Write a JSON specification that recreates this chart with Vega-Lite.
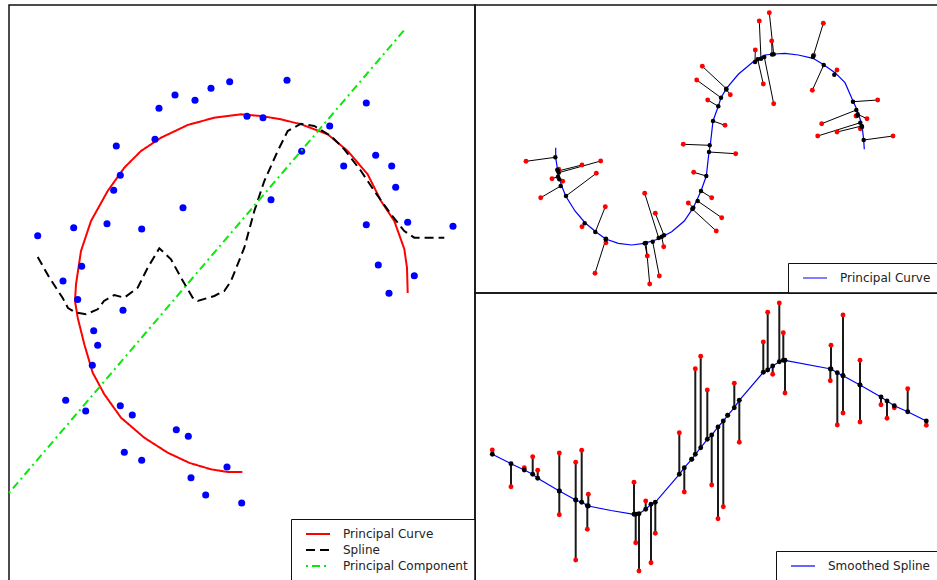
{
  "$schema": "https://vega.github.io/schema/vega-lite/v6.json",
  "padding": {"left": 4, "top": 4, "right": 0, "bottom": 0},
  "background": "white",
  "spacing": 0,
  "bounds": "flush",
  "datasets": {
    "leftPoints": [
      {"x":36.7,"y":234.7},{"x":72.7,"y":226.7},{"x":62,"y":280},{"x":80.7,"y":265.3},{"x":76.7,"y":298.5},
      {"x":106,"y":222.7},{"x":112.7,"y":189.3},{"x":119.3,"y":174.3},{"x":115.3,"y":145},{"x":140.7,"y":228},
      {"x":154,"y":138.3},{"x":158,"y":107.3},{"x":174,"y":94},{"x":194,"y":99.3},{"x":210,"y":87.3},
      {"x":228.7,"y":80.7},{"x":182,"y":206.7},{"x":246,"y":115.3},{"x":262,"y":116.7},{"x":286,"y":79.3},
      {"x":270,"y":198.7},{"x":300.7,"y":150.3},{"x":328.7,"y":125},{"x":365.3,"y":102},{"x":342.7,"y":165},
      {"x":374.7,"y":154.3},{"x":390.7,"y":165},{"x":394.7,"y":186.3},{"x":365.3,"y":223.7},{"x":406.7,"y":221.3},
      {"x":452,"y":225.3},{"x":377.3,"y":264},{"x":413.3,"y":274.7},{"x":388,"y":292.3},{"x":122,"y":309.3},
      {"x":92.7,"y":329.7},{"x":96.7,"y":344.3},{"x":91.3,"y":364.3},{"x":64.7,"y":399.3},{"x":84.7,"y":410},
      {"x":119.3,"y":404.7},{"x":131.3,"y":414},{"x":175.3,"y":428.7},{"x":187.3,"y":435.3},{"x":123.3,"y":451.3},
      {"x":140.7,"y":459.3},{"x":226,"y":466},{"x":190,"y":476.7},{"x":204.7,"y":494},{"x":240.7,"y":502}
    ],
    "leftCurves": [
      {"series":"Principal Curve","ord":1,"x":406.7,"y":292},{"series":"Principal Curve","ord":2,"x":406,"y":266.7},
      {"series":"Principal Curve","ord":3,"x":403.3,"y":248},{"series":"Principal Curve","ord":4,"x":393.3,"y":220},
      {"series":"Principal Curve","ord":5,"x":380,"y":200},{"series":"Principal Curve","ord":6,"x":366.7,"y":173.3},
      {"series":"Principal Curve","ord":7,"x":346.7,"y":150},{"series":"Principal Curve","ord":8,"x":326.7,"y":133.3},
      {"series":"Principal Curve","ord":9,"x":300,"y":123.3},{"series":"Principal Curve","ord":10,"x":280,"y":118.3},
      {"series":"Principal Curve","ord":11,"x":260,"y":115},{"series":"Principal Curve","ord":12,"x":240,"y":113.3},
      {"series":"Principal Curve","ord":13,"x":213.3,"y":116.7},{"series":"Principal Curve","ord":14,"x":186.7,"y":124},
      {"series":"Principal Curve","ord":15,"x":160,"y":136.7},{"series":"Principal Curve","ord":16,"x":140,"y":150},
      {"series":"Principal Curve","ord":17,"x":123.3,"y":166.7},{"series":"Principal Curve","ord":18,"x":106.7,"y":190},
      {"series":"Principal Curve","ord":19,"x":90,"y":220},{"series":"Principal Curve","ord":20,"x":80,"y":250},
      {"series":"Principal Curve","ord":21,"x":75,"y":283.3},{"series":"Principal Curve","ord":22,"x":74,"y":300},
      {"series":"Principal Curve","ord":23,"x":76.7,"y":316.7},{"series":"Principal Curve","ord":24,"x":83.3,"y":343.3},
      {"series":"Principal Curve","ord":25,"x":91.7,"y":371.7},{"series":"Principal Curve","ord":26,"x":103.3,"y":393.3},
      {"series":"Principal Curve","ord":27,"x":120,"y":416.7},{"series":"Principal Curve","ord":28,"x":143.3,"y":436.7},
      {"series":"Principal Curve","ord":29,"x":166.7,"y":451.7},{"series":"Principal Curve","ord":30,"x":188.7,"y":462},
      {"series":"Principal Curve","ord":31,"x":210,"y":468.3},{"series":"Principal Curve","ord":32,"x":226.7,"y":471},
      {"series":"Principal Curve","ord":33,"x":241.3,"y":471},
      {"series":"Spline","ord":1,"x":36.7,"y":256},{"series":"Spline","ord":2,"x":48,"y":276},
      {"series":"Spline","ord":3,"x":61.7,"y":297},{"series":"Spline","ord":4,"x":67,"y":307},
      {"series":"Spline","ord":5,"x":74,"y":311.3},{"series":"Spline","ord":6,"x":85,"y":313.3},
      {"series":"Spline","ord":7,"x":96.7,"y":308.3},{"series":"Spline","ord":8,"x":103,"y":300},
      {"series":"Spline","ord":9,"x":113.3,"y":294},{"series":"Spline","ord":10,"x":123.3,"y":296.7},
      {"series":"Spline","ord":11,"x":136.7,"y":286.7},{"series":"Spline","ord":12,"x":146.7,"y":266.7},
      {"series":"Spline","ord":13,"x":158.3,"y":247.3},{"series":"Spline","ord":14,"x":170,"y":258.3},
      {"series":"Spline","ord":15,"x":180,"y":276.7},{"series":"Spline","ord":16,"x":191.7,"y":296.7},
      {"series":"Spline","ord":17,"x":196.7,"y":300},{"series":"Spline","ord":18,"x":213.3,"y":295},
      {"series":"Spline","ord":19,"x":223.3,"y":290},{"series":"Spline","ord":20,"x":230,"y":280},
      {"series":"Spline","ord":21,"x":243.3,"y":246.7},{"series":"Spline","ord":22,"x":253.3,"y":210},
      {"series":"Spline","ord":23,"x":263.3,"y":180},{"series":"Spline","ord":24,"x":276.7,"y":150},
      {"series":"Spline","ord":25,"x":286.7,"y":130},{"series":"Spline","ord":26,"x":300,"y":122.7},
      {"series":"Spline","ord":27,"x":313.3,"y":125},{"series":"Spline","ord":28,"x":330,"y":135},
      {"series":"Spline","ord":29,"x":343.3,"y":148.3},{"series":"Spline","ord":30,"x":360,"y":170},
      {"series":"Spline","ord":31,"x":373.3,"y":190},{"series":"Spline","ord":32,"x":390,"y":213.3},
      {"series":"Spline","ord":33,"x":403.3,"y":230},{"series":"Spline","ord":34,"x":413.3,"y":236.7},
      {"series":"Spline","ord":35,"x":443.3,"y":236.7},
      {"series":"Principal Component","ord":1,"x":8,"y":492},{"series":"Principal Component","ord":2,"x":405,"y":27}
    ],
    "trPairs": [
      {"rx":525,"ry":160.3,"bx":554.3,"by":156.3},{"rx":581,"ry":164,"bx":557,"by":170},
      {"rx":599.7,"ry":160,"bx":557.7,"by":171.7},{"rx":557.7,"ry":168.3,"bx":556.3,"by":168.8},
      {"rx":551,"ry":177.7,"bx":557,"by":175.7},{"rx":561.7,"ry":180.3,"bx":558.3,"by":178.3},
      {"rx":539.7,"ry":196.7,"bx":559.7,"by":185},{"rx":595.3,"ry":172.3,"bx":565,"by":195},
      {"rx":604.3,"ry":205.7,"bx":594.3,"by":231},{"rx":581,"ry":225.7,"bx":583.7,"by":222.3},
      {"rx":594,"ry":272.3,"bx":605,"by":237.7},{"rx":605,"ry":241.7,"bx":604.7,"by":238.5},
      {"rx":643.7,"ry":192.3,"bx":657.7,"by":237},{"rx":654.3,"ry":212.3,"bx":663,"by":234.3},
      {"rx":646.3,"ry":255,"bx":643.7,"by":242.3},{"rx":648.7,"ry":283,"bx":645,"by":242},
      {"rx":658.3,"ry":275,"bx":651.7,"by":240.7},{"rx":662.7,"ry":245.7,"bx":660.7,"by":235.7},
      {"rx":692.7,"ry":171.3,"bx":705.3,"by":175},{"rx":710.7,"ry":196.7,"bx":700,"by":190},
      {"rx":687.3,"ry":202,"bx":692.3,"by":206.7},{"rx":720.7,"ry":216.7,"bx":696.7,"by":200},
      {"rx":715.3,"ry":230,"bx":691.3,"by":208},{"rx":682.3,"ry":143.3,"bx":708.7,"by":144.3},
      {"rx":734.7,"ry":152.7,"bx":708,"by":151},{"rx":724,"ry":124.3,"bx":712,"by":120},
      {"rx":706.7,"ry":99,"bx":717.3,"by":105.3},{"rx":695.7,"ry":79,"bx":720,"by":96.7},
      {"rx":701.3,"ry":65.3,"bx":725.3,"by":87.7},{"rx":729.3,"ry":93.7,"bx":725.3,"by":88.5},
      {"rx":758.3,"ry":20,"bx":760,"by":57.7},{"rx":768.3,"ry":11.7,"bx":772.7,"by":53.3},
      {"rx":770.7,"ry":40,"bx":771,"by":53.5},{"rx":754.3,"ry":49,"bx":754,"by":61},
      {"rx":762.3,"ry":83,"bx":756.7,"by":58.3},{"rx":772.7,"ry":102.7,"bx":763.3,"by":56},
      {"rx":822.3,"ry":22.3,"bx":812.3,"by":55},{"rx":812.7,"ry":54.3,"bx":812,"by":56},
      {"rx":811.3,"ry":89.3,"bx":822.7,"by":64},{"rx":836,"ry":69,"bx":833.3,"by":73.7},
      {"rx":876.7,"ry":99,"bx":852,"by":100.7},{"rx":820.7,"ry":122.7,"bx":855.3,"by":109},
      {"rx":866,"ry":117.7,"bx":856.7,"by":113.3},{"rx":855,"ry":115,"bx":856.5,"by":114.5},
      {"rx":816.7,"ry":135,"bx":859.3,"by":121.7},{"rx":836,"ry":131,"bx":860.7,"by":125},
      {"rx":859.3,"ry":127.7,"bx":861,"by":126},{"rx":892,"ry":135,"bx":862.7,"by":139}
    ],
    "trCurve": [
      {"series":"Principal Curve","ord":1,"x":554.7,"y":146.7},{"series":"Principal Curve","ord":2,"x":554.7,"y":156.7},
      {"series":"Principal Curve","ord":3,"x":557.3,"y":173.3},{"series":"Principal Curve","ord":4,"x":560.7,"y":185},
      {"series":"Principal Curve","ord":5,"x":564.7,"y":195},{"series":"Principal Curve","ord":6,"x":574,"y":210},
      {"series":"Principal Curve","ord":7,"x":584,"y":221.7},{"series":"Principal Curve","ord":8,"x":594.7,"y":230.7},
      {"series":"Principal Curve","ord":9,"x":604.7,"y":238},{"series":"Principal Curve","ord":10,"x":617.3,"y":242.3},
      {"series":"Principal Curve","ord":11,"x":630.7,"y":244},{"series":"Principal Curve","ord":12,"x":643.3,"y":242.3},
      {"series":"Principal Curve","ord":13,"x":656.7,"y":238.3},{"series":"Principal Curve","ord":14,"x":670.7,"y":230.7},
      {"series":"Principal Curve","ord":15,"x":683.3,"y":220},{"series":"Principal Curve","ord":16,"x":692.3,"y":206.7},
      {"series":"Principal Curve","ord":17,"x":700,"y":190},{"series":"Principal Curve","ord":18,"x":705.3,"y":175},
      {"series":"Principal Curve","ord":19,"x":708,"y":151},{"series":"Principal Curve","ord":20,"x":709.3,"y":144},
      {"series":"Principal Curve","ord":21,"x":712,"y":120},{"series":"Principal Curve","ord":22,"x":717.3,"y":105.3},
      {"series":"Principal Curve","ord":23,"x":720,"y":96.7},{"series":"Principal Curve","ord":24,"x":725.3,"y":87.7},
      {"series":"Principal Curve","ord":25,"x":737.3,"y":73.3},{"series":"Principal Curve","ord":26,"x":754,"y":59.3},
      {"series":"Principal Curve","ord":27,"x":764,"y":54},{"series":"Principal Curve","ord":28,"x":773.3,"y":53},
      {"series":"Principal Curve","ord":29,"x":784,"y":52.3},{"series":"Principal Curve","ord":30,"x":797.3,"y":54},
      {"series":"Principal Curve","ord":31,"x":812,"y":57.3},{"series":"Principal Curve","ord":32,"x":822,"y":63.3},
      {"series":"Principal Curve","ord":33,"x":834,"y":71.7},{"series":"Principal Curve","ord":34,"x":844,"y":81.7},
      {"series":"Principal Curve","ord":35,"x":852,"y":100},{"series":"Principal Curve","ord":36,"x":856,"y":108.7},
      {"series":"Principal Curve","ord":37,"x":859.3,"y":118.7},{"series":"Principal Curve","ord":38,"x":861.3,"y":126.7},
      {"series":"Principal Curve","ord":39,"x":862.7,"y":139.3},{"series":"Principal Curve","ord":40,"x":863.3,"y":148.3}
    ],
    "brPairs": [
      {"x":491.3,"by":453.3,"ry":449},{"x":510,"by":462.7,"ry":485.7},{"x":523.3,"by":469,"ry":466.7},
      {"x":531.7,"by":473.3,"ry":455.7},{"x":536.7,"by":477.3,"ry":469.3},{"x":558.3,"by":490,"ry":452},
      {"x":558.3,"by":490,"ry":513.7},{"x":574.7,"by":499,"ry":461.3},{"x":574.7,"by":499,"ry":559},
      {"x":580.7,"by":501.3,"ry":449.3},{"x":587.3,"by":505,"ry":493.3},{"x":586.3,"by":504.8,"ry":528.3},
      {"x":633,"by":513.3,"ry":481.3},{"x":634.7,"by":513.3,"ry":541.7},{"x":638,"by":512.7,"ry":570},
      {"x":644.7,"by":508.3,"ry":500},{"x":650,"by":503.3,"ry":561.7},{"x":654.3,"by":501.3,"ry":532.3},
      {"x":678.3,"by":473.3,"ry":431.7},{"x":683.3,"by":466.7,"ry":491},{"x":690.7,"by":458.3,"ry":458.3},
      {"x":694.3,"by":453.3,"ry":367.7},{"x":699.7,"by":446.7,"ry":355.3},{"x":706.3,"by":438.3,"ry":389},
      {"x":710.7,"by":434,"ry":484},{"x":717,"by":426,"ry":517.7},{"x":722.3,"by":420,"ry":505.7},
      {"x":726.7,"by":414.3,"ry":414.3},{"x":733.3,"by":406.7,"ry":382.3},{"x":738.3,"by":399.3,"ry":441.3},
      {"x":762.3,"by":371.3,"ry":341},{"x":766.7,"by":369,"ry":311.3},{"x":771.7,"by":365,"ry":373.3},
      {"x":778.3,"by":360.7,"ry":302},{"x":782.3,"by":359.3,"ry":331.7},{"x":784,"by":359.3,"ry":392},
      {"x":830,"by":368,"ry":344.3},{"x":829.3,"by":368,"ry":379.7},{"x":836.3,"by":371.7,"ry":424},
      {"x":842,"by":374.7,"ry":314},{"x":842,"by":374.7,"ry":412},{"x":859,"by":384,"ry":359.3},
      {"x":859,"by":384,"ry":421},{"x":880,"by":396,"ry":403.7},{"x":886,"by":400,"ry":417.3},
      {"x":893.3,"by":404.7,"ry":406.7},{"x":906.7,"by":410.7,"ry":387.7},{"x":925.3,"by":420,"ry":424.3}
    ],
    "brCurve": [
      {"series":"Smoothed Spline","ord":1,"x":491.3,"y":453.3},{"series":"Smoothed Spline","ord":2,"x":510,"y":462.7},
      {"series":"Smoothed Spline","ord":3,"x":523.3,"y":469},{"series":"Smoothed Spline","ord":4,"x":531.7,"y":473.3},
      {"series":"Smoothed Spline","ord":5,"x":536.7,"y":477.3},{"series":"Smoothed Spline","ord":6,"x":558.3,"y":490},
      {"series":"Smoothed Spline","ord":7,"x":574.7,"y":499},{"series":"Smoothed Spline","ord":8,"x":580.7,"y":501.3},
      {"series":"Smoothed Spline","ord":9,"x":587.3,"y":505},{"series":"Smoothed Spline","ord":10,"x":610,"y":509.5},
      {"series":"Smoothed Spline","ord":11,"x":633,"y":513.3},{"series":"Smoothed Spline","ord":12,"x":638,"y":512.7},
      {"series":"Smoothed Spline","ord":13,"x":644.7,"y":508.3},{"series":"Smoothed Spline","ord":14,"x":650,"y":503.3},
      {"series":"Smoothed Spline","ord":15,"x":654.3,"y":501.3},{"series":"Smoothed Spline","ord":16,"x":678.3,"y":473.3},
      {"series":"Smoothed Spline","ord":17,"x":683.3,"y":466.7},{"series":"Smoothed Spline","ord":18,"x":690.7,"y":458.3},
      {"series":"Smoothed Spline","ord":19,"x":694.3,"y":453.3},{"series":"Smoothed Spline","ord":20,"x":699.7,"y":446.7},
      {"series":"Smoothed Spline","ord":21,"x":706.3,"y":438.3},{"series":"Smoothed Spline","ord":22,"x":710.7,"y":434},
      {"series":"Smoothed Spline","ord":23,"x":717,"y":426},{"series":"Smoothed Spline","ord":24,"x":722.3,"y":420},
      {"series":"Smoothed Spline","ord":25,"x":726.7,"y":414.3},{"series":"Smoothed Spline","ord":26,"x":733.3,"y":406.7},
      {"series":"Smoothed Spline","ord":27,"x":738.3,"y":399.3},{"series":"Smoothed Spline","ord":28,"x":762.3,"y":371.3},
      {"series":"Smoothed Spline","ord":29,"x":766.7,"y":369},{"series":"Smoothed Spline","ord":30,"x":771.7,"y":365},
      {"series":"Smoothed Spline","ord":31,"x":778.3,"y":360.7},{"series":"Smoothed Spline","ord":32,"x":784,"y":359.3},
      {"series":"Smoothed Spline","ord":33,"x":830,"y":368},{"series":"Smoothed Spline","ord":34,"x":836.3,"y":371.7},
      {"series":"Smoothed Spline","ord":35,"x":842,"y":374.7},{"series":"Smoothed Spline","ord":36,"x":859,"y":384},
      {"series":"Smoothed Spline","ord":37,"x":880,"y":396},{"series":"Smoothed Spline","ord":38,"x":886,"y":400},
      {"series":"Smoothed Spline","ord":39,"x":893.3,"y":404.7},{"series":"Smoothed Spline","ord":40,"x":906.7,"y":410.7},
      {"series":"Smoothed Spline","ord":41,"x":925.3,"y":420}
    ]
  },
  "resolve": {"scale": {"color": "independent", "strokeDash": "independent"}, "legend": {"color": "independent", "strokeDash": "independent"}},
  "hconcat": [
    {
      "width": 466,
      "height": 576,
      "layer": [
        {
          "data": {"name": "leftCurves"},
          "transform": [{"filter": "datum.series !== 'Principal Component'"}],
          "mark": {"type": "line", "strokeWidth": 2},
          "encoding": {
            "x": {"field": "x", "type": "quantitative", "scale": {"domain": [8, 474], "nice": false, "zero": false}, "axis": null},
            "y": {"field": "y", "type": "quantitative", "scale": {"domain": [4, 580], "nice": false, "zero": false, "reverse": true}, "axis": null},
            "order": {"field": "ord", "type": "quantitative"},
            "color": {"field": "series", "type": "nominal", "scale": {"domain": ["Principal Curve", "Spline", "Principal Component"], "range": ["#ff0000", "#000000", "#00ee00"]}, "legend": {"symbolStrokeWidth": 2}},
            "strokeDash": {"field": "series", "type": "nominal", "scale": {"domain": ["Principal Curve", "Spline", "Principal Component"], "range": [[1, 0], [9, 5], [2, 4, 8, 4]]}, "legend": {"symbolStrokeWidth": 2}}
          }
        },
        {
          "data": {"name": "leftPoints"},
          "mark": {"type": "circle", "size": 50, "color": "#0000ff", "opacity": 1},
          "encoding": {
            "x": {"field": "x", "type": "quantitative", "axis": null},
            "y": {"field": "y", "type": "quantitative", "axis": null}
          }
        },
        {
          "data": {"name": "leftCurves"},
          "transform": [{"filter": "datum.series === 'Principal Component'"}],
          "mark": {"type": "line", "strokeWidth": 2},
          "encoding": {
            "x": {"field": "x", "type": "quantitative", "axis": null},
            "y": {"field": "y", "type": "quantitative", "axis": null},
            "order": {"field": "ord", "type": "quantitative"},
            "color": {"field": "series", "type": "nominal", "legend": {"symbolStrokeWidth": 2}},
            "strokeDash": {"field": "series", "type": "nominal", "legend": {"symbolStrokeWidth": 2}}
          }
        }
      ]
    },
    {
      "spacing": 0,
      "bounds": "flush",
      "resolve": {"scale": {"color": "independent"}, "legend": {"color": "independent"}},
      "vconcat": [
        {
          "width": 463,
          "height": 288,
          "layer": [
            {
              "data": {"name": "trPairs"},
              "mark": {"type": "rule", "color": "#000000", "strokeWidth": 1},
              "encoding": {
                "x": {"field": "rx", "type": "quantitative", "scale": {"domain": [474, 937], "nice": false, "zero": false}, "axis": null},
                "y": {"field": "ry", "type": "quantitative", "scale": {"domain": [4, 292], "nice": false, "zero": false, "reverse": true}, "axis": null},
                "x2": {"field": "bx"},
                "y2": {"field": "by"}
              }
            },
            {
              "data": {"name": "trCurve"},
              "mark": {"type": "line", "strokeWidth": 1.2},
              "encoding": {
                "x": {"field": "x", "type": "quantitative", "axis": null},
                "y": {"field": "y", "type": "quantitative", "axis": null},
                "order": {"field": "ord", "type": "quantitative"},
                "color": {"field": "series", "type": "nominal", "scale": {"domain": ["Principal Curve"], "range": ["#0000ff"]}, "legend": {"symbolStrokeWidth": 1.2}}
              }
            },
            {
              "data": {"name": "trPairs"},
              "mark": {"type": "circle", "size": 24, "color": "#ff0000", "opacity": 1},
              "encoding": {
                "x": {"field": "rx", "type": "quantitative", "axis": null},
                "y": {"field": "ry", "type": "quantitative", "axis": null}
              }
            },
            {
              "data": {"name": "trPairs"},
              "mark": {"type": "circle", "size": 20, "color": "#000000", "opacity": 1},
              "encoding": {
                "x": {"field": "bx", "type": "quantitative", "axis": null},
                "y": {"field": "by", "type": "quantitative", "axis": null}
              }
            }
          ]
        },
        {
          "width": 463,
          "height": 288,
          "layer": [
            {
              "data": {"name": "brPairs"},
              "mark": {"type": "rule", "color": "#1a1a1a", "strokeWidth": 2},
              "encoding": {
                "x": {"field": "x", "type": "quantitative", "scale": {"domain": [474, 937], "nice": false, "zero": false}, "axis": null},
                "y": {"field": "ry", "type": "quantitative", "scale": {"domain": [292, 580], "nice": false, "zero": false, "reverse": true}, "axis": null},
                "y2": {"field": "by"}
              }
            },
            {
              "data": {"name": "brCurve"},
              "mark": {"type": "line", "strokeWidth": 1.2},
              "encoding": {
                "x": {"field": "x", "type": "quantitative", "axis": null},
                "y": {"field": "y", "type": "quantitative", "axis": null},
                "order": {"field": "ord", "type": "quantitative"},
                "color": {"field": "series", "type": "nominal", "scale": {"domain": ["Smoothed Spline"], "range": ["#0000ff"]}, "legend": {"symbolStrokeWidth": 1.2}}
              }
            },
            {
              "data": {"name": "brPairs"},
              "mark": {"type": "circle", "size": 24, "color": "#ff0000", "opacity": 1},
              "encoding": {
                "x": {"field": "x", "type": "quantitative", "axis": null},
                "y": {"field": "ry", "type": "quantitative", "axis": null}
              }
            },
            {
              "data": {"name": "brPairs"},
              "mark": {"type": "circle", "size": 24, "color": "#000000", "opacity": 1},
              "encoding": {
                "x": {"field": "x", "type": "quantitative", "axis": null},
                "y": {"field": "by", "type": "quantitative", "axis": null}
              }
            }
          ]
        }
      ]
    }
  ],
  "config": {
    "view": {"stroke": "#111111", "strokeWidth": 1.5},
    "legend": {
      "orient": "bottom-right",
      "offset": 0,
      "title": null,
      "symbolType": "stroke",
      "symbolSize": 576,
      "symbolOffset": 7,
      "clipHeight": 16,
      "labelFont": "DejaVu Sans",
      "labelFontSize": 12,
      "labelColor": "#222222",
      "labelOffset": 12,
      "labelLimit": 300,
      "strokeColor": "#111111",
      "fillColor": "white",
      "padding": 7,
      "rowPadding": 0,
      "cornerRadius": 0
    }
  }
}
